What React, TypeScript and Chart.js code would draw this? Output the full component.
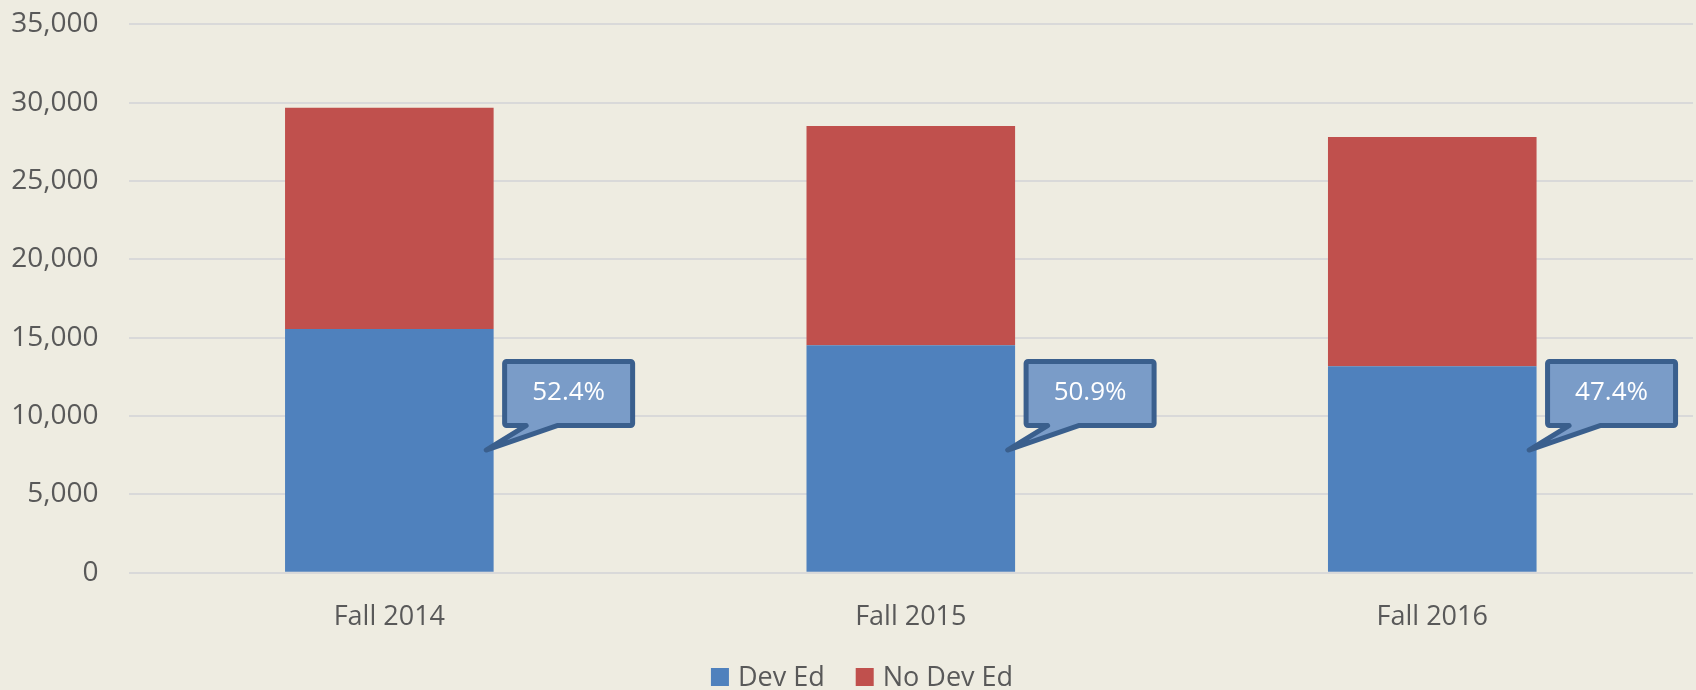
import { useEffect, useRef } from "react";
import { Chart, registerables } from "chart.js";

Chart.register(...registerables);

const categories = ["Fall 2014", "Fall 2015", "Fall 2016"];
const devEd = [15553, 14513, 13173];
const noDevEd = [14124, 13996, 14634];
const devEdShare = ["52.4%", "50.9%", "47.4%"];
const calloutAnchor = 7830;
const yMax = 35000;
const yStep = 5000;

const BG = "#eeece1";
const FONT = "'Open Sans', sans-serif";

const bgPlugin = {
  id: "bg",
  beforeDraw(chart: any) {
    const { ctx, width, height } = chart;
    ctx.save();
    ctx.fillStyle = BG;
    ctx.fillRect(0, 0, width, height);
    ctx.restore();
  },
};

const calloutPlugin = {
  id: "callouts",
  afterDatasetsDraw(chart: any) {
    const { ctx } = chart;
    const meta = chart.getDatasetMeta(0);
    const ys = chart.scales.y;
    meta.data.forEach((bar: any, i: number) => {
      const { x, width } = bar.getProps(["x", "width"], true);
      const tx = x + width / 2 - 7.5;
      const ty = ys.getPixelForValue(calloutAnchor);
      const bl = tx + 18.5;
      const br = tx + 146.5;
      const bt = ty - 88.5;
      const bb = ty - 24.5;
      const r = 2;
      ctx.save();
      ctx.beginPath();
      ctx.moveTo(tx, ty);
      ctx.lineTo(tx + 40, bb);
      ctx.lineTo(bl + r, bb);
      ctx.arcTo(bl, bb, bl, bb - r, r);
      ctx.lineTo(bl, bt + r);
      ctx.arcTo(bl, bt, bl + r, bt, r);
      ctx.lineTo(br - r, bt);
      ctx.arcTo(br, bt, br, bt + r, r);
      ctx.lineTo(br, bb - r);
      ctx.arcTo(br, bb, br - r, bb, r);
      ctx.lineTo(tx + 71, bb);
      ctx.closePath();
      ctx.fillStyle = "#7a9cc8";
      ctx.fill();
      ctx.lineWidth = 5;
      ctx.lineJoin = "round";
      ctx.strokeStyle = "#3a5f8d";
      ctx.stroke();
      ctx.fillStyle = "#ffffff";
      ctx.font = `26px ${FONT}`;
      ctx.textAlign = "center";
      ctx.textBaseline = "alphabetic";
      ctx.fillText(devEdShare[i], (bl + br) / 2, ty - 50.5);
      ctx.restore();
    });
  },
};

const legendPlugin = {
  id: "customLegend",
  afterDraw(chart: any) {
    const { ctx } = chart;
    const ds = chart.data.datasets;
    ctx.save();
    ctx.font = `27px ${FONT}`;
    ctx.textBaseline = "alphabetic";
    ctx.textAlign = "left";
    const box = 18;
    const gapText = 9;
    const gapItem = 31;
    const widths = ds.map((d: any) => ctx.measureText(d.label).width);
    let total = 0;
    widths.forEach((w: number, i: number) => {
      total += box + gapText + w + (i < widths.length - 1 ? gapItem : 0);
    });
    let x = 862 - total / 2;
    ds.forEach((d: any, i: number) => {
      ctx.fillStyle = d.backgroundColor;
      ctx.fillRect(x, 668, box, box);
      ctx.fillStyle = "#595959";
      ctx.fillText(d.label, x + box + gapText, 685.5);
      x += box + gapText + widths[i] + gapItem;
    });
    ctx.restore();
  },
};

export default function App() {
  const ref = useRef<HTMLCanvasElement>(null);
  useEffect(() => {
    document.body.style.margin = "0";
    document.body.style.background = BG;
    const chart = new Chart(ref.current!, {
      type: "bar",
      data: {
        labels: categories,
        datasets: [
          {
            label: "Dev Ed",
            data: devEd,
            backgroundColor: "#4f81bd",
            borderWidth: 0,
            categoryPercentage: 1,
            barPercentage: 0.4,
          },
          {
            label: "No Dev Ed",
            data: noDevEd,
            backgroundColor: "#c0504d",
            borderWidth: 0,
            categoryPercentage: 1,
            barPercentage: 0.4,
          },
        ],
      },
      options: {
        animation: false,
        responsive: false,
        maintainAspectRatio: false,
        layout: { padding: { top: 24.3, right: 3, bottom: 0, left: 0 } },
        plugins: {
          legend: { display: false },
          tooltip: { enabled: false },
        },
        scales: {
          x: {
            stacked: true,
            grid: { display: false },
            border: { display: false },
            ticks: {
              color: "#595959",
              font: { family: FONT, size: 27 },
              padding: 20.5,
            },
            afterFit(scale: any) {
              scale.height = 117.3;
              scale.paddingLeft = 0;
              scale.paddingRight = 0;
            },
          },
          y: {
            stacked: true,
            min: 0,
            max: yMax,
            grid: { color: "#d9d9d9", lineWidth: 2, drawTicks: false },
            border: { display: false },
            ticks: {
              stepSize: yStep,
              color: "#595959",
              font: { family: FONT, size: 28 },
              padding: 30,
              callback: (v: any) => Number(v).toLocaleString("en-US"),
            },
            afterFit(scale: any) {
              scale.width = 128.6;
              scale.paddingTop = 0;
              scale.paddingBottom = 0;
            },
          },
        },
      },
      plugins: [bgPlugin, calloutPlugin, legendPlugin],
    });
    return () => chart.destroy();
  }, []);
  return (
    <canvas
      ref={ref}
      width={1696}
      height={690}
      style={{ display: "block", width: 1696, height: 690 }}
    />
  );
}
